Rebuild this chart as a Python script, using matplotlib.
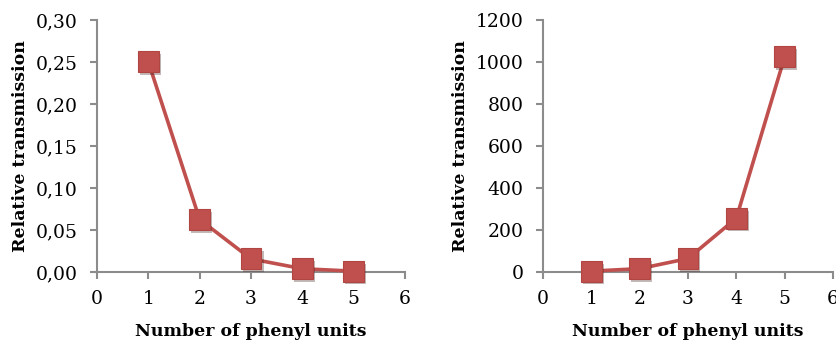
import matplotlib
matplotlib.use('Agg')
import matplotlib.pyplot as plt
import matplotlib.patheffects as pe
from matplotlib.ticker import FuncFormatter

# dades llegides de la figura
phenyl_units = [1, 2, 3, 4, 5]
transmission_left = [0.25, 0.0625, 0.0156, 0.0039, 0.001]
transmission_right = [4, 16, 64, 256, 1024]

RED = '#C0504D'
GRAY = '#8c8c8c'

plt.rcParams['font.family'] = ['DejaVu Serif']

fig = plt.figure(figsize=(8.37, 3.43), dpi=100)
ax1 = fig.add_axes([0.1159, 0.207, 0.368, 0.735])
ax2 = fig.add_axes([0.6487, 0.207, 0.3465, 0.735])


def style_axis(ax):
    for s in ['top', 'right']:
        ax.spines[s].set_visible(False)
    for s in ['left', 'bottom']:
        ax.spines[s].set_color(GRAY)
        ax.spines[s].set_linewidth(1.5)
    ax.tick_params(axis='both', colors=GRAY, labelcolor='black',
                   length=5, width=1.5, labelsize=13.5)
    ax.tick_params(axis='y', pad=9)
    ax.tick_params(axis='x', pad=8)
    ax.set_xlim(0, 6)
    ax.set_xticks(range(0, 7))
    ax.set_xlabel('Number of phenyl units', fontsize=12.5, fontweight='bold', labelpad=11)
    ax.set_ylabel('Relative transmission', fontsize=12.5, fontweight='bold', labelpad=5)


def draw(ax, y):
    # linia sense ombra i marcadors amb una ombra suau
    ax.plot(phenyl_units, y, color=RED, linewidth=2.6, clip_on=False, zorder=3)
    shadow = [pe.SimplePatchShadow(offset=(1.5, -2), alpha=0.3), pe.Normal()]
    ax.plot(phenyl_units, y, linestyle='none', marker='s', markersize=15,
            markerfacecolor=RED, markeredgecolor='#b04542', markeredgewidth=0.8,
            clip_on=False, zorder=4, path_effects=shadow)


draw(ax1, transmission_left)
style_axis(ax1)
ax1.set_ylim(0, 0.30)
ax1.set_yticks([0, 0.05, 0.10, 0.15, 0.20, 0.25, 0.30])
ax1.yaxis.set_major_formatter(FuncFormatter(lambda v, p: f"{v:.2f}".replace('.', ',')))

draw(ax2, transmission_right)
style_axis(ax2)
ax2.set_ylim(0, 1200)
ax2.set_yticks(range(0, 1201, 200))

fig.savefig('out.png', dpi=100)
